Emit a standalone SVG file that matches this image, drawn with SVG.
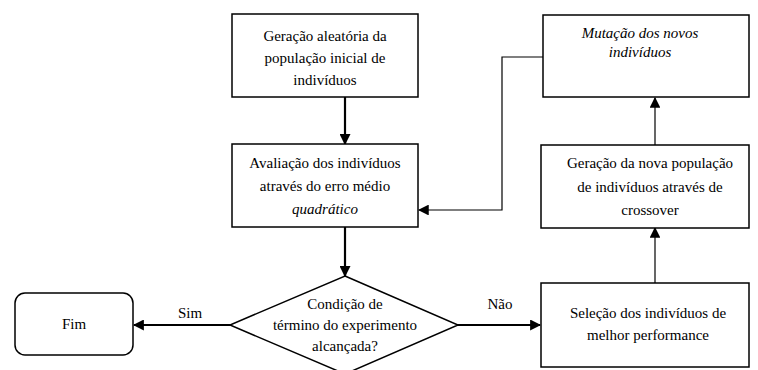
<svg xmlns="http://www.w3.org/2000/svg" width="758" height="370" viewBox="0 0 758 370" font-family="Liberation Serif, DejaVu Serif, serif">
  <style>
    .box { fill: #ffffff; stroke: #000000; stroke-width: 1.5; }
    .lbl { font-size: 15px; fill: #000000; text-anchor: middle; }
    .it { font-style: italic; }
    .flow { fill: none; stroke: #000000; stroke-width: 2.2; }
    .thin { fill: none; stroke: #000000; stroke-width: 1.2; }
  </style>
  <defs>
    <marker id="head" viewBox="0 0 10 10" refX="9" refY="5" markerWidth="5" markerHeight="5" orient="auto" markerUnits="strokeWidth">
      <path d="M0,0 L10,5 L0,10 z" fill="#000000"/>
    </marker>
    <marker id="headThin" viewBox="0 0 10 10" refX="9" refY="5" markerWidth="9" markerHeight="9" orient="auto" markerUnits="strokeWidth">
      <path d="M0,0 L10,5 L0,10 z" fill="#000000"/>
    </marker>
  </defs>
  <rect width="758" height="370" fill="#ffffff"/>

  <g id="connectors">
    <line class="flow" x1="345" y1="97" x2="345" y2="144" marker-end="url(#head)"/>
    <line class="flow" x1="345" y1="227" x2="345" y2="276" marker-end="url(#head)"/>
    <line class="flow" x1="230" y1="325" x2="134" y2="325" marker-end="url(#head)"/>
    <line class="flow" x1="458" y1="325" x2="540" y2="325" marker-end="url(#head)"/>
    <line class="thin" x1="655" y1="283" x2="655" y2="228" marker-end="url(#headThin)"/>
    <line class="thin" x1="655" y1="145" x2="655" y2="98" marker-end="url(#headThin)"/>
    <polyline class="thin" points="543,57 502,57 502,210 419,210" marker-end="url(#headThin)"/>
    <text class="lbl" x="190" y="318" font-size="13">Sim</text>
    <text class="lbl" x="500" y="309" font-size="13">Não</text>
  </g>

  <g id="n-geracao-inicial">
    <rect class="box" x="232" y="14" width="186" height="83"/>
    <text class="lbl" x="325" y="41">Geração aleatória da</text>
    <text class="lbl" x="325" y="63">população inicial de</text>
    <text class="lbl" x="325" y="85">indivíduos</text>
  </g>

  <g id="n-avaliacao">
    <rect class="box" x="232" y="144" width="186" height="83"/>
    <text class="lbl" x="325" y="168">Avaliação dos indivíduos</text>
    <text class="lbl" x="325" y="191">através do erro médio</text>
    <text class="lbl it" x="325" y="214">quadrático</text>
  </g>

  <g id="n-condicao">
    <polygon class="box" points="345,276 458,325 345,374 230,325"/>
    <text class="lbl" x="345" y="309">Condição de</text>
    <text class="lbl" x="345" y="330">término do experimento</text>
    <text class="lbl" x="345" y="351">alcançada?</text>
  </g>

  <g id="n-fim">
    <rect class="box" x="15" y="293" width="118" height="62" rx="10" ry="10"/>
    <text class="lbl" x="74" y="329">Fim</text>
  </g>

  <g id="n-mutacao">
    <rect class="box" x="543" y="15" width="206" height="82"/>
    <text class="lbl it" x="640" y="38">Mutação dos novos</text>
    <text class="lbl it" x="640" y="57">indivíduos</text>
  </g>

  <g id="n-crossover">
    <rect class="box" x="541" y="145" width="208" height="83"/>
    <text class="lbl" x="650" y="168">Geração da nova população</text>
    <text class="lbl" x="650" y="192">de indivíduos através de</text>
    <text class="lbl" x="650" y="215">crossover</text>
  </g>

  <g id="n-selecao">
    <rect class="box" x="541" y="283" width="208" height="84"/>
    <text class="lbl" x="648" y="318">Seleção dos indivíduos de</text>
    <text class="lbl" x="648" y="340">melhor performance</text>
  </g>
</svg>
